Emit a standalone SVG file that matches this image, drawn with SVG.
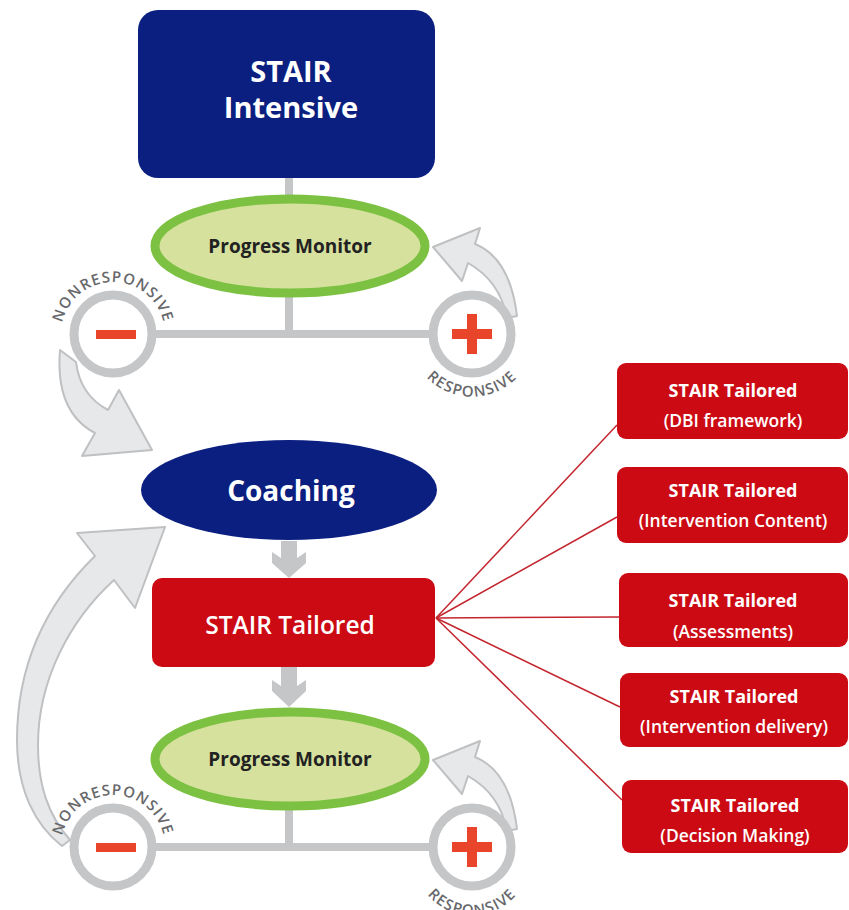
<svg xmlns="http://www.w3.org/2000/svg" xmlns:xlink="http://www.w3.org/1999/xlink" width="849" height="910" viewBox="0 0 849 910">
<defs>
<style>
.navy{fill:#0b1f80}
.red{fill:#cc0a14}
.pm{fill:#d5e19d;stroke:#7cc142;stroke-width:9}
.ring{fill:#ffffff;stroke:#c5c6c8;stroke-width:9}
.sign{fill:#e8452b}
.bar{stroke:#c5c6c8;stroke-width:8;fill:none}
.darr{fill:#c5c6c8}
.carr{fill:#e7e8e9;stroke:#bfc0c2;stroke-width:2;stroke-linejoin:round}
.link{stroke:#c3262e;stroke-width:1.5;fill:none}
.t{font-family:"Open Sans","Liberation Sans",sans-serif;text-anchor:middle}
.wt{fill:#ffffff}
.big{font-size:29px;font-weight:700}
.pmt{font-size:19px;font-weight:700;fill:#222222}
.sm1{font-size:18px;font-weight:700}
.sm2{font-size:17.5px;font-weight:600}
.arc{font-family:"Open Sans","Liberation Sans",sans-serif;font-size:15px;font-weight:600;fill:#67686b;letter-spacing:1.2px}
</style>
<path id="nr1" d="M64.1,351.8 A52,52 0 1,1 161.9,351.8"/>
<path id="nr2" d="M64.1,864.8 A52,52 0 1,1 161.9,864.8"/>
<path id="r1" d="M410,344.9 A63,63 0 0,0 534,344.9"/>
<path id="r2" d="M414,857.4 A58,58 0 0,0 530,857.4"/>
</defs>
<rect width="849" height="910" fill="#ffffff"/>

<g id="connectors">
  <line class="bar" x1="289" y1="176" x2="289" y2="197"/>
  <line class="bar" x1="289" y1="295" x2="289" y2="334"/>
  <line class="bar" x1="150" y1="334" x2="435" y2="334"/>
  <line class="bar" x1="289" y1="808" x2="289" y2="847"/>
  <line class="bar" x1="150" y1="847" x2="435" y2="847"/>
  <polygon class="darr" points="281,541 297,541 297,558 306,552 306,563 289,578 272,563 272,552 281,558"/>
  <polygon class="darr" points="281,667 297,667 297,686 306,680 306,691 289,707 272,691 272,680 281,686"/>
  <path class="carr" d="M433,247 L480,228 L475,244 Q510,258 517,316 L507,318 Q500,281 468,263 L462,281 Z"/>
  <path class="carr" transform="translate(0,513)" d="M433,247 L480,228 L475,244 Q510,258 517,316 L507,318 Q500,281 468,263 L462,281 Z"/>
  <path class="carr" d="M152,450 L119,390 L108,410 Q80,395 76,362 L60,350 Q55,412 95,433 L82,456 Z"/>
  <path class="carr" d="M165,527 L77,533 L95,556 C50,600 17,660 17,740 C17,790 35,825 62,846 L70,840 C48,815 38,785 38,745 C38,680 70,620 114,580 L135,608 Z"/>
  <line class="link" x1="436" y1="618" x2="617" y2="425"/>
  <line class="link" x1="436" y1="618" x2="617" y2="517"/>
  <line class="link" x1="436" y1="618" x2="619" y2="617"/>
  <line class="link" x1="436" y1="618" x2="620" y2="707"/>
  <line class="link" x1="436" y1="618" x2="622" y2="800"/>
</g>

<g id="stair-intensive">
  <rect class="navy" x="138" y="10" width="297" height="168" rx="20"/>
  <text class="t wt big" x="291" y="82">STAIR</text>
  <text class="t wt big" x="291" y="118">Intensive</text>
</g>

<g id="progress-monitor-1">
  <ellipse class="pm" cx="290" cy="246" rx="135" ry="47"/>
  <text class="t pmt" x="290" y="253">Progress Monitor</text>
</g>

<g id="nonresponsive-1">
  <circle class="ring" cx="113" cy="334" r="39"/>
  <rect class="sign" x="96" y="330" width="40" height="9"/>
  <text class="arc"><textPath href="#nr1" xlink:href="#nr1" startOffset="50%" text-anchor="middle">NONRESPONSIVE</textPath></text>
</g>

<g id="responsive-1">
  <circle class="ring" cx="472" cy="334" r="39"/>
  <rect class="sign" x="452" y="329" width="40" height="10"/>
  <rect class="sign" x="467" y="314" width="10" height="40"/>
  <text class="arc"><textPath href="#r1" xlink:href="#r1" startOffset="50%" text-anchor="middle">RESPONSIVE</textPath></text>
</g>

<g id="coaching">
  <ellipse class="navy" cx="289" cy="490" rx="148" ry="50"/>
  <text class="t wt" x="291" y="501" font-size="28" font-weight="700">Coaching</text>
</g>

<g id="stair-tailored">
  <rect class="red" x="152" y="578" width="283" height="89" rx="10"/>
  <text class="t wt" x="290" y="634" font-size="24.5" font-weight="600">STAIR Tailored</text>
</g>

<g id="progress-monitor-2">
  <ellipse class="pm" cx="290" cy="759" rx="135" ry="47"/>
  <text class="t pmt" x="290" y="766">Progress Monitor</text>
</g>

<g id="nonresponsive-2">
  <circle class="ring" cx="113" cy="847" r="39"/>
  <rect class="sign" x="96" y="843" width="40" height="9"/>
  <text class="arc"><textPath href="#nr2" xlink:href="#nr2" startOffset="50%" text-anchor="middle">NONRESPONSIVE</textPath></text>
</g>

<g id="responsive-2">
  <circle class="ring" cx="472" cy="847" r="39"/>
  <rect class="sign" x="452" y="842" width="40" height="10"/>
  <rect class="sign" x="467" y="827" width="10" height="40"/>
  <text class="arc"><textPath href="#r2" xlink:href="#r2" startOffset="50%" text-anchor="middle">RESPONSIVE</textPath></text>
</g>

<g id="tailored-dbi">
  <rect class="red" x="617" y="363" width="231" height="76" rx="9"/>
  <text class="t wt sm1" x="733" y="397">STAIR Tailored</text>
  <text class="t wt sm2" x="733" y="427">(DBI framework)</text>
</g>

<g id="tailored-content">
  <rect class="red" x="617" y="467" width="231" height="76" rx="9"/>
  <text class="t wt sm1" x="733" y="497">STAIR Tailored</text>
  <text class="t wt sm2" x="733" y="527">(Intervention Content)</text>
</g>

<g id="tailored-assessments">
  <rect class="red" x="619" y="573" width="229" height="74" rx="9"/>
  <text class="t wt sm1" x="733" y="607">STAIR Tailored</text>
  <text class="t wt sm2" x="733" y="638">(Assessments)</text>
</g>

<g id="tailored-delivery">
  <rect class="red" x="620" y="673" width="228" height="74" rx="9"/>
  <text class="t wt sm1" x="734" y="703">STAIR Tailored</text>
  <text class="t wt sm2" x="734" y="733">(Intervention delivery)</text>
</g>

<g id="tailored-decision">
  <rect class="red" x="622" y="780" width="226" height="73" rx="9"/>
  <text class="t wt sm1" x="735" y="812">STAIR Tailored</text>
  <text class="t wt sm2" x="735" y="842">(Decision Making)</text>
</g>
</svg>
